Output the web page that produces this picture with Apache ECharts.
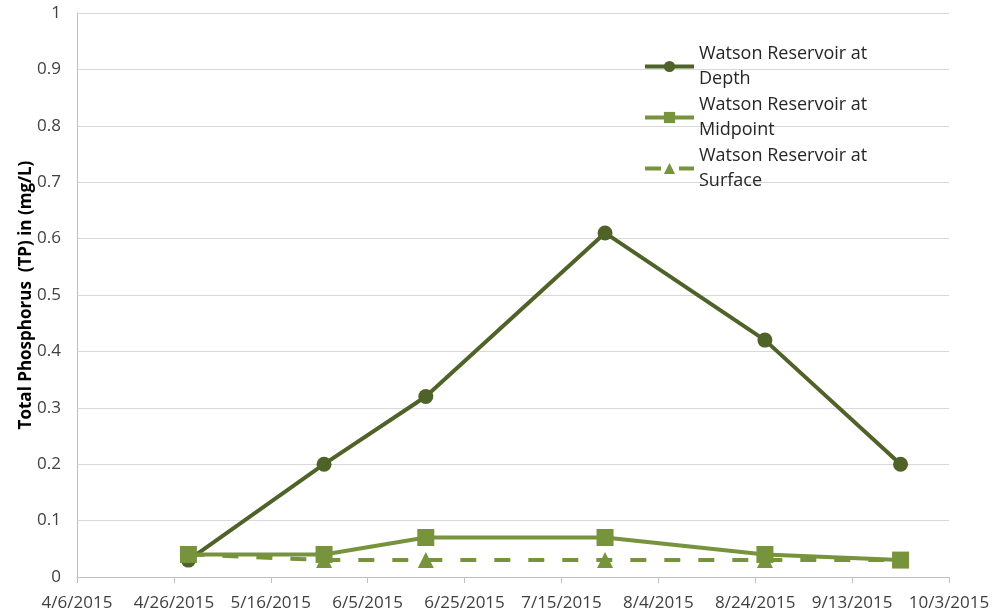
<!DOCTYPE html>
<html>
<head>
<meta charset="utf-8">
<script src="https://cdn.jsdelivr.net/npm/echarts@6/dist/echarts.min.js"></script>
<style>
  html, body { margin: 0; padding: 0; background: #fff; }
  #chart { width: 1000px; height: 615px; }
</style>
</head>
<body>
<div id="chart"></div>
<script>
// Sampling dates and total phosphorus results (mg/L)
const sampleDates = ['2015-04-29', '2015-05-27', '2015-06-17', '2015-07-24', '2015-08-26', '2015-09-23'];
const depthTP     = [0.03, 0.20, 0.32, 0.61, 0.42, 0.20];
const midpointTP  = [0.04, 0.04, 0.07, 0.07, 0.04, 0.03];
const surfaceTP   = [0.04, 0.03, 0.03, 0.03, 0.03, 0.03];
const seriesNames = ['Watson Reservoir at\nDepth', 'Watson Reservoir at\nMidpoint', 'Watson Reservoir at\nSurface'];

// x axis runs in days counted from the first tick date
const axisStart = Date.UTC(2015, 3, 6);
const DAY = 86400000;
const dayOf = s => { const [y, m, d] = s.split('-').map(Number); return Math.round((Date.UTC(y, m - 1, d) - axisStart) / DAY); };
const dateLabel = v => { const t = new Date(axisStart + v * DAY); return (t.getUTCMonth() + 1) + '/' + t.getUTCDate() + '/' + t.getUTCFullYear(); };
const pairs = vals => sampleDates.map((s, i) => [dayOf(s), vals[i]]);

const FONT = 'Open Sans';
const dark = '#4F6228', light = '#77933C';

const chart = echarts.init(document.getElementById('chart'), null, { renderer: 'canvas' });
chart.setOption({
  animation: false,
  textStyle: { fontFamily: FONT },
  grid: { left: 77, right: 51, top: 13, bottom: 38, containLabel: false },
  legend: {
    left: 643, top: 29, orient: 'vertical', padding: 0, itemGap: -24,
    itemWidth: 49, itemHeight: 14,
    lineStyle: { width: 4 },
    textStyle: { fontFamily: FONT, fontSize: 18, color: '#262626', lineHeight: 25, padding: [25, 0, 0, 0] },
    data: seriesNames
  },
  xAxis: {
    type: 'value', min: 0, max: 180, interval: 20,
    axisLine: { lineStyle: { color: '#BFBFBF', width: 1 } },
    axisTick: { show: true, inside: false, length: 6, lineStyle: { color: '#BFBFBF' } },
    axisLabel: { formatter: dateLabel, fontFamily: FONT, fontSize: 17, color: '#404040', margin: 18 },
    splitLine: { show: false }
  },
  yAxis: {
    type: 'value', min: 0, max: 1, interval: 0.1,
    name: 'Total Phosphorus  (TP) in (mg/L)', nameLocation: 'middle', nameGap: 42,
    nameMoveOverlap: false,
    nameTextStyle: { fontFamily: FONT, fontSize: 17, fontWeight: 'bold', color: '#000' },
    axisLine: { show: true, lineStyle: { color: '#BFBFBF' } },
    axisTick: { show: false },
    axisLabel: { fontFamily: FONT, fontSize: 17, color: '#404040', margin: 16, formatter: v => String(Math.round(v * 10) / 10) },
    splitLine: { lineStyle: { color: '#D9D9D9', width: 1 } }
  },
  series: [
    {
      name: seriesNames[0], type: 'line', data: pairs(depthTP),
      symbol: 'circle', symbolSize: 15,
      lineStyle: { color: dark, width: 4 }, itemStyle: { color: dark }, z: 3
    },
    {
      name: seriesNames[1], type: 'line', data: pairs(midpointTP),
      symbol: 'rect', symbolSize: 17,
      lineStyle: { color: light, width: 4 }, itemStyle: { color: light }, z: 4
    },
    {
      name: seriesNames[2], type: 'line', data: pairs(surfaceTP),
      symbol: 'triangle', symbolSize: 16,
      lineStyle: { color: light, width: 4, type: [16, 18] }, itemStyle: { color: light }, z: 2
    }
  ]
});
</script>
</body>
</html>
